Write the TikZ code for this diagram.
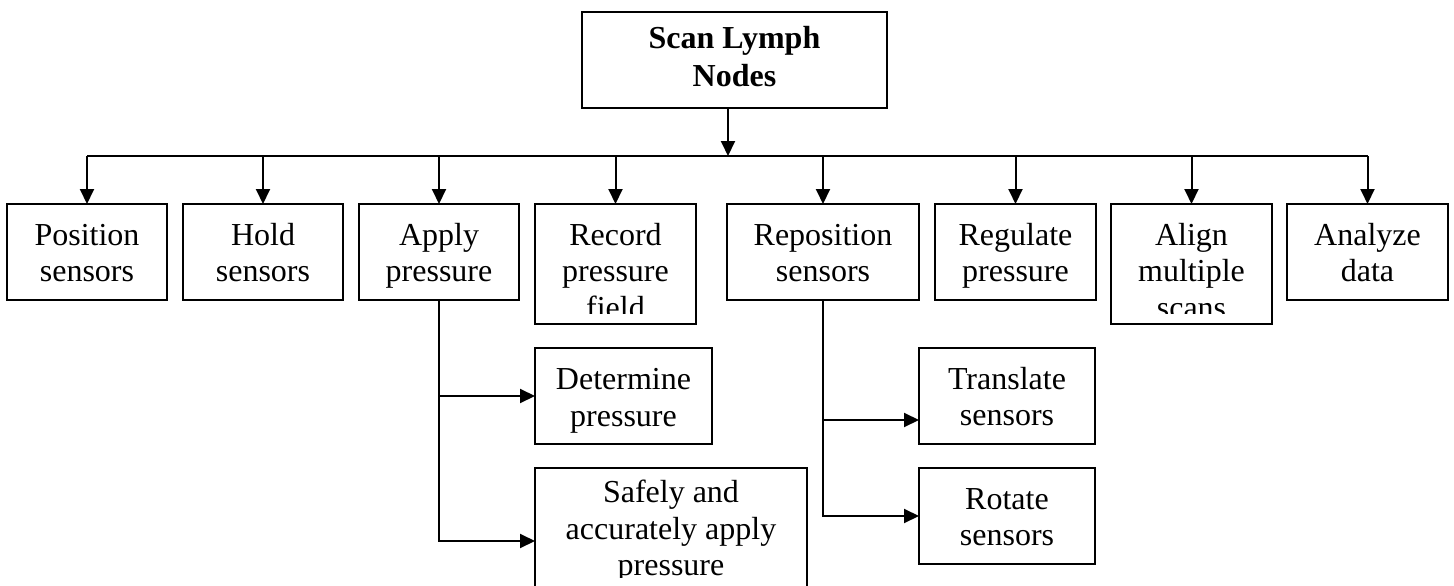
\documentclass[tikz,border=0pt]{standalone}
\usepackage{fontspec}
\setmainfont{Liberation Serif}
\usetikzlibrary{arrows.meta}
\begin{document}
\begin{tikzpicture}[x=1pt,y=-1pt,
  box/.style={draw=black, line width=2pt, inner sep=0pt, outer sep=0pt},
  lbl/.style={font=\fontsize{32}{36.5}\selectfont, align=center, inner sep=0pt, anchor=base},
  link/.style={line width=2pt},
  arr/.style={line width=2pt, -{Triangle[length=15pt,width=14pt]}}]
\useasboundingbox (0,0) rectangle (1454,586);

% root (labels are anchored on the baseline of their last line)
\node[box, minimum width=305pt, minimum height=96pt] (root) at (734.5,60) {};
\node[lbl, font=\fontsize{32}{37}\selectfont\bfseries] at (734.5,86) {Scan Lymph\\Nodes};

% first level
\node[box, minimum width=160pt, minimum height=96pt] (pos) at (87,252) {};
\node[box, minimum width=160pt, minimum height=96pt] (hold) at (263,252) {};
\node[box, minimum width=160pt, minimum height=96pt] (apply) at (439,252) {};
\node[box, minimum width=161pt, minimum height=120pt] (record) at (615.5,264) {};
\node[box, minimum width=192pt, minimum height=96pt] (repos) at (823,252) {};
\node[box, minimum width=161pt, minimum height=96pt] (regul) at (1015.5,252) {};
\node[box, minimum width=161pt, minimum height=120pt] (align) at (1191.5,264) {};
\node[box, minimum width=161pt, minimum height=96pt] (analyze) at (1367.5,252) {};

\node[lbl] at (87,281.5) {Position\\sensors};
\node[lbl] at (263,281.5) {Hold\\sensors};
\node[lbl] at (439,281.5) {Apply\\pressure};
\begin{scope}
  \clip (535,204) rectangle (696,313);
  \node[lbl] at (615.5,318) {Record\\pressure\\field};
\end{scope}
\node[lbl] at (823,281.5) {Reposition\\sensors};
\node[lbl] at (1015.5,281.5) {Regulate\\pressure};
\begin{scope}
  \clip (1111,204) rectangle (1272,313);
  \node[lbl] at (1191.5,318) {Align\\multiple\\scans};
\end{scope}
\node[lbl] at (1367.5,281.5) {Analyze\\data};

% second level
\node[box, minimum width=177pt, minimum height=96pt] (determ) at (623.5,396) {};
\node[box, minimum width=272pt, minimum height=120pt] (safely) at (671,528) {};
\node[box, minimum width=176pt, minimum height=96pt] (transl) at (1007,396) {};
\node[box, minimum width=176pt, minimum height=96pt] (rotate) at (1007,516) {};

\node[lbl] at (623.5,426) {Determine\\pressure};
\begin{scope}
  \clip (535,468) rectangle (807,577);
  \node[lbl] at (671,575.5) {Safely and\\accurately apply\\pressure};
\end{scope}
\node[lbl] at (1007,425.5) {Translate\\sensors};
\node[lbl] at (1007,545.5) {Rotate\\sensors};

% connectors
\coordinate (bus) at (728,156);
\draw[arr] (root.south -| bus) -- (bus);
\draw[link] (pos.north |- bus) -- (analyze.north |- bus);
\foreach \n in {pos,hold,apply,record,repos,regul,align,analyze}
  \draw[arr] (\n.north |- bus) -- (\n.north);

\draw[arr] (apply.south) |- (determ.west);
\draw[arr] (apply.south) |- ([yshift=-13pt]safely.west);
\draw[arr] (repos.south) |- ([yshift=-24pt]transl.west);
\draw[arr] (repos.south) |- (rotate.west);
\end{tikzpicture}
\end{document}
